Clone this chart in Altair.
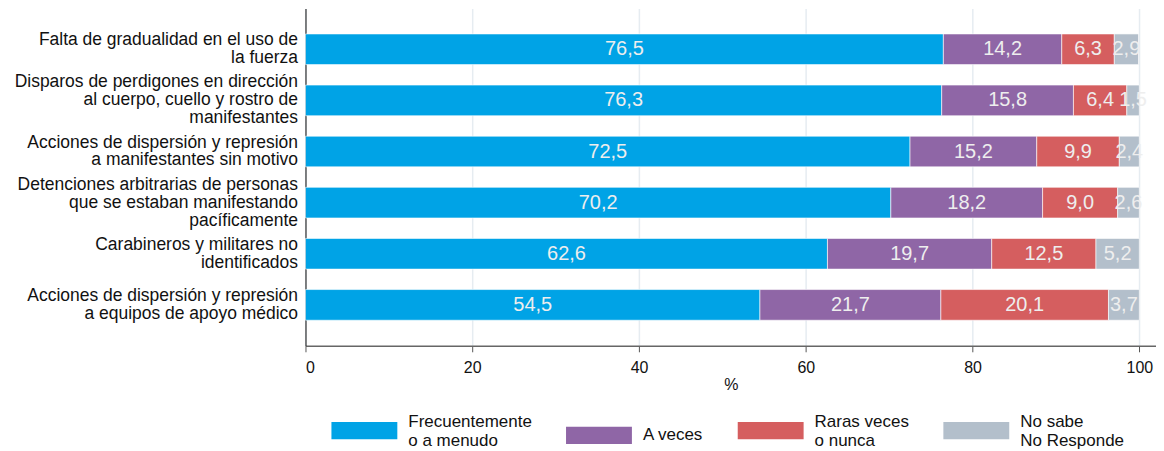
import altair as alt
import pandas as pd

categories = [
    "Falta de gradualidad en el uso de\nla fuerza",
    "Disparos de perdigones en dirección\nal cuerpo, cuello y rostro de\nmanifestantes",
    "Acciones de dispersión y represión\na manifestantes sin motivo",
    "Detenciones arbitrarias de personas\nque se estaban manifestando\npacíficamente",
    "Carabineros y militares no\nidentificados",
    "Acciones de dispersión y represión\na equipos de apoyo médico",
]
series = [
    "Frecuentemente\no a menudo",
    "A veces",
    "Raras veces\no nunca",
    "No sabe\nNo Responde",
]
frecuente = [76.5, 76.3, 72.5, 70.2, 62.6, 54.5]
a_veces = [14.2, 15.8, 15.2, 18.2, 19.7, 21.7]
raras = [6.3, 6.4, 9.9, 9.0, 12.5, 20.1]
no_sabe = [2.9, 1.5, 2.4, 2.6, 5.2, 3.7]
colors = ["#00A3E6", "#8F66A6", "#D55E5F", "#B3BFCB"]
x_ticks = [0, 20, 40, 60, 80, 100]

rows = []
for vals, s_i in zip([frecuente, a_veces, raras, no_sabe], range(4)):
    for c, v in zip(categories, vals):
        rows.append({"cat": c, "serie": series[s_i], "orden": s_i, "value": v})
df = pd.DataFrame(rows)

FONT = "Liberation Sans"
LH = 18

base = alt.Chart(df)

y_enc = alt.Y(
    "cat:N",
    sort=categories,
    title=None,
    scale=alt.Scale(paddingInner=0.4, paddingOuter=0.5),
    axis=alt.Axis(
        labelExpr="split(datum.label, '\\n')",
        labelFontSize=17.5,
        labelLineHeight=LH,
        labelColor="#111111",
        labelPadding=8,
        labelOffset={
            "condition": {
                "test": "length(split(datum.value, '\\n')) >= 3",
                "value": -LH,
            },
            "value": -LH / 2,
        },
        ticks=False,
        domainColor="#333333",
        domainWidth=1.2,
        minExtent=292,
        maxExtent=292,
        labelLimit=400,
        grid=False,
    ),
)

bars = base.mark_bar(stroke="white", strokeWidth=0.6).encode(
    y=y_enc,
    x=alt.X(
        "value:Q",
        stack="zero",
        scale=alt.Scale(domain=[0, 102], nice=False),
        title="%",
        axis=alt.Axis(
            values=x_ticks,
            labelFontSize=16,
            labelColor="#111111",
            titleFontSize=16,
            titleFontWeight="normal",
            titleColor="#111111",
            titlePadding=1,
            tickSize=6,
            tickColor="#555555",
            domainColor="#666666",
            domainWidth=1.5,
            gridColor="#E6ECF1",
            gridWidth=1.5,
            labelPadding=8,
        ),
    ),
    color=alt.Color(
        "serie:N",
        sort=series,
        scale=alt.Scale(domain=series, range=colors),
        legend=alt.Legend(
            title=None,
            orient="none",
            direction="horizontal",
            columns=4,
            legendX=26,
            legendY=390,
            symbolType="M-1,-0.26H1V0.26H-1ZM0,-0.62",
            symbolSize=4356,
            symbolStrokeWidth=0,
            symbolOpacity=1,
            labelExpr="split(datum.label, '\\n')",
            labelBaseline={"expr": "indexof(datum.label, '\\n') >= 0 ? 'bottom' : 'middle'"},
            labelFontSize=17,
            labelColor="#111111",
            labelOffset=11,
            columnPadding=34,
            labelLimit=300,
        ),
    ),
    order=alt.Order("orden:Q", sort="ascending"),
)

text = (
    base.transform_stack(
        stack="value",
        groupby=["cat"],
        as_=["v0", "v1"],
        sort=[alt.SortField("orden", order="ascending")],
    )
    .transform_calculate(
        mid="(datum.v0 + datum.v1) / 2",
        lab="replace(format(datum.value, '.1f'), '.', ',')",
    )
    .mark_text(font=FONT, fontSize=20, color="#EEEEEE", align="center", baseline="middle")
    .encode(
        y=alt.Y("cat:N", sort=categories),
        x=alt.X("mid:Q"),
        text="lab:N",
    )
)

chart = (
    alt.layer(bars, text)
    .properties(
        width=852,
        height=338,
        padding={"left": 5, "top": 0, "right": 0, "bottom": 0},
    )
    .configure(font=FONT)
    .configure_view(stroke=None)
)

chart.save("out.html", embed_options={"renderer": "svg", "actions": False})
